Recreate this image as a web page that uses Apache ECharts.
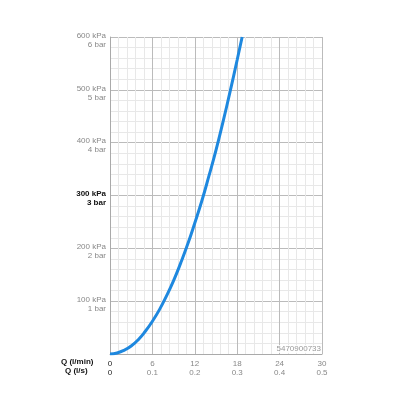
<!DOCTYPE html>
<html><head><meta charset="utf-8">
<script src="https://cdn.jsdelivr.net/npm/echarts@6/dist/echarts.min.js"></script>
<style>html,body{margin:0;padding:0;background:#fff}#c{width:400px;height:400px}</style>
</head><body><div id="c"></div>
<script>
const flowLpm = [0, 1, 2, 3, 4, 5, 6, 7, 8, 9, 10, 11, 12, 13, 14, 15, 16, 17, 18, 18.7];
const pressureKPa = [0, 2, 7, 15, 27, 43, 62, 84, 110, 139, 172, 208, 248, 290, 337, 386, 440, 497, 557, 600];
const xTicksLpm = ['0', '6', '12', '18', '24', '30'];
const xTicksLps = ['0', '0.1', '0.2', '0.3', '0.4', '0.5'];
const yTicksKPa = ['', '100 kPa', '200 kPa', '300 kPa', '400 kPa', '500 kPa', '600 kPa'];
const yTicksBar = ['', '1 bar', '2 bar', '3 bar', '4 bar', '5 bar', '6 bar'];
const xRowTitles = ['Q (l/min)', 'Q (l/s)'];
const codeText = '5470900733';

const chart = echarts.init(document.getElementById('c'));
const FONT = 'Liberation Sans';
chart.setOption({
  animation: false,
  grid: { left: 110, right: 78, top: 37, bottom: 46 },
  xAxis: {
    type: 'value', min: 0, max: 30, interval: 6,
    axisLine: { show: true, lineStyle: { color: '#aaa', width: 1 } },
    axisTick: { show: false },
    minorTick: { show: false, splitNumber: 5 },
    splitLine: { show: true, lineStyle: { color: '#bbb', width: 1 } },
    minorSplitLine: { show: true, lineStyle: { color: '#e8e8e8', width: 1 } },
    axisLabel: {
      margin: 5, fontFamily: FONT, fontSize: 8, lineHeight: 9,
      formatter: function (v) {
        const i = Math.round(v / 6);
        const s = i === 0 ? 'k' : 'g';
        return '{' + s + '|' + xTicksLpm[i] + '}\n{' + s + '|' + xTicksLps[i] + '}';
      },
      rich: {
        k: { color: '#222', fontFamily: FONT, fontSize: 8, lineHeight: 9 },
        g: { color: '#888', fontFamily: FONT, fontSize: 8, lineHeight: 9 }
      }
    }
  },
  yAxis: {
    type: 'value', min: 0, max: 600, interval: 100,
    axisLine: { show: true, lineStyle: { color: '#aaa', width: 1 } },
    axisTick: { show: false },
    minorTick: { show: false, splitNumber: 5 },
    splitLine: { show: true, lineStyle: { color: '#bbb', width: 1 } },
    minorSplitLine: { show: true, lineStyle: { color: '#e8e8e8', width: 1 } },
    axisLabel: {
      margin: 4, fontFamily: FONT, fontSize: 8, lineHeight: 9, padding: [6, 0, 0, 0],
      formatter: function (v) {
        const i = Math.round(v / 100);
        if (!yTicksKPa[i]) return '';
        const s = i === 3 ? 'b' : 'g';
        return '{' + s + '|' + yTicksKPa[i] + '}\n{' + s + '|' + yTicksBar[i] + '}';
      },
      rich: {
        b: { color: '#111', fontWeight: 'bold', fontFamily: FONT, fontSize: 8, lineHeight: 9, align: 'right' },
        g: { color: '#888', fontFamily: FONT, fontSize: 8, lineHeight: 9, align: 'right' }
      }
    }
  },
  graphic: [
    { type: 'text', left: 61, top: 358, style: { text: xRowTitles[0], fill: '#111', font: 'bold 8px "Liberation Sans"' } },
    { type: 'text', left: 65, top: 367, style: { text: xRowTitles[1], fill: '#111', font: 'bold 8px "Liberation Sans"' } },
    { type: 'text', right: 79, top: 345, z: 10, style: { text: codeText, fill: '#999', font: '8px "Liberation Sans"', backgroundColor: 'rgba(255,255,255,0.8)' } }
  ],
  series: [{
    type: 'line', smooth: true, showSymbol: false, clip: true,
    data: flowLpm.map((q, i) => [q, pressureKPa[i]]),
    lineStyle: { color: '#1e88df', width: 3 }
  }]
});
</script></body></html>
